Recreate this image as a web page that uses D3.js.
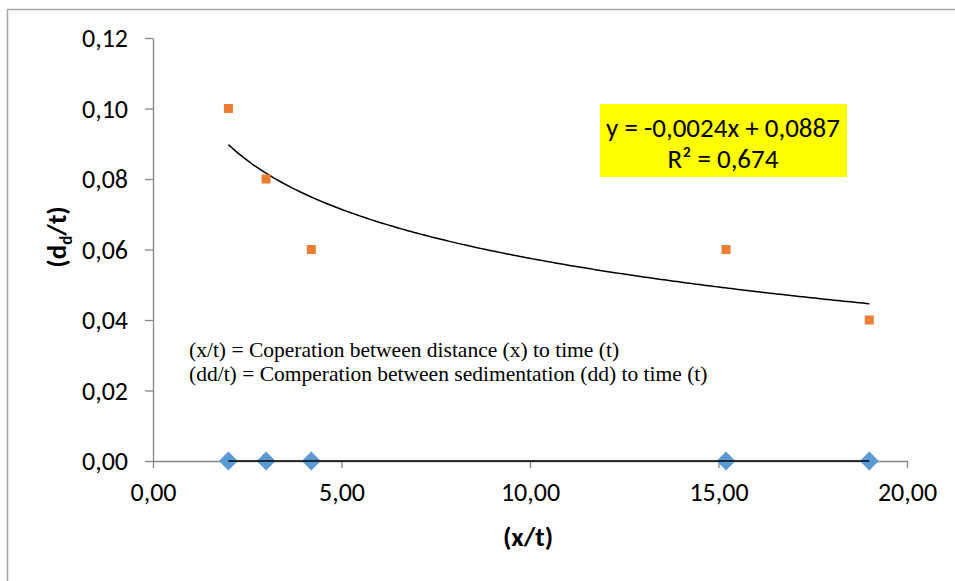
<!DOCTYPE html>
<html><head><meta charset="utf-8">
<script src="https://cdn.jsdelivr.net/npm/d3@7"></script>
<style>body{margin:0;background:#fff}svg{display:block}</style>
</head><body>
<svg id="c" width="955" height="581"></svg>
<script>
const xValues = [2.0, 3.0, 4.2, 15.2, 19.0];
const ddValues = [0.10, 0.08, 0.06, 0.06, 0.04];
const baseValues = [0, 0, 0, 0, 0];
const xTicks = [0, 5, 10, 15, 20];
const yTicks = [0, 0.02, 0.04, 0.06, 0.08, 0.10, 0.12];
const equationLines = ["y = -0,0024x + 0,0887", "R² = 0,674"];
const noteLines = ["(x/t) = Coperation between distance (x) to time (t)", "(dd/t) = Comperation between sedimentation (dd) to time (t)"];

const svg = d3.select("#c");
const fmt = v => d3.format(".2f")(v).replace(".", ",");
const x = d3.scaleLinear().domain([0, 20]).range([153, 907]);
const y = d3.scaleLinear().domain([0, 0.12]).range([461, 38]);
const font = "Calibri, Carlito, 'Open Sans', sans-serif";

// outer border
svg.append("path").attr("d", "M7.5,581 V9.5 H955").attr("fill", "none").attr("stroke", "#a6a6a6").attr("stroke-width", 1.5);

// axes
const yAx = svg.append("g").attr("transform", "translate(153,0)")
  .call(d3.axisLeft(y).tickValues(yTicks).tickFormat(fmt).tickSize(8).tickSizeOuter(0).tickPadding(17));
const xAx = svg.append("g").attr("transform", "translate(0,461)")
  .call(d3.axisBottom(x).tickValues(xTicks).tickFormat(fmt).tickSize(7).tickSizeOuter(0).tickPadding(17));
[yAx, xAx].forEach(g => {
  g.selectAll("path.domain").attr("stroke", "#868686").attr("stroke-width", 1.3);
  g.selectAll(".tick line").attr("stroke", "#868686").attr("stroke-width", 1.3);
  g.selectAll("text").attr("font-family", font).attr("font-size", 26).attr("fill", "#000");
});
xAx.selectAll("text").attr("dy", "0.62em");
yAx.selectAll("text").attr("dy", "0.33em");

// log trendline for dd series computed from data
const lx = xValues.map(Math.log);
const mx = d3.mean(lx), my = d3.mean(ddValues);
const a = d3.sum(lx.map((v, i) => (v - mx) * (ddValues[i] - my))) / d3.sum(lx.map(v => (v - mx) ** 2));
const b = my - a * mx;
const xs = d3.range(0, 201).map(i => xValues[0] + (xValues[4] - xValues[0]) * i / 200);
svg.append("path").datum(xs)
  .attr("d", d3.line().x(d => x(d)).y(d => y(a * Math.log(d) + b)))
  .attr("fill", "none").attr("stroke", "#000").attr("stroke-width", 1.5);

// blue diamonds
svg.append("g").selectAll("path").data(xValues).join("path")
  .attr("d", d3.symbol(d3.symbolSquare, 180))
  .attr("transform", (d, i) => `translate(${x(d)},${y(baseValues[i])}) rotate(45)`)
  .attr("fill", "#5b9bd5");
// linear trendline for base series
svg.append("line").attr("x1", x(xValues[0])).attr("x2", x(xValues[4]))
  .attr("y1", y(0)).attr("y2", y(0)).attr("stroke", "#000").attr("stroke-width", 1.5);

// orange squares
svg.append("g").selectAll("rect").data(xValues).join("rect")
  .attr("x", d => x(d) - 4.5).attr("y", (d, i) => y(ddValues[i]) - 4.5)
  .attr("width", 9).attr("height", 9).attr("fill", "#ed7d31");

// equation box
svg.append("rect").attr("x", 600).attr("y", 104).attr("width", 247).attr("height", 73).attr("fill", "#ffff00");
svg.append("g").selectAll("text").data(equationLines).join("text")
  .attr("x", 723).attr("y", (d, i) => 137 + i * 31).attr("text-anchor", "middle")
  .attr("font-family", font).attr("font-size", 27).attr("fill", "#000").text(d => d);

// notes
svg.append("g").selectAll("text").data(noteLines).join("text")
  .attr("x", 189).attr("y", (d, i) => 357 + i * 24)
  .attr("font-family", "'Liberation Serif', 'Times New Roman', serif").attr("font-size", 21.5).attr("fill", "#000").text(d => d);

// axis titles
svg.append("text").attr("x", 528).attr("y", 546).attr("text-anchor", "middle")
  .attr("font-family", font).attr("font-weight", "bold").attr("font-size", 27).text("(x/t)");
const yt = svg.append("text").attr("transform", "translate(66,237) rotate(-90)").attr("text-anchor", "middle")
  .attr("font-family", font).attr("font-weight", "bold").attr("font-size", 27);
yt.append("tspan").text("(d");
yt.append("tspan").attr("font-size", 17).attr("dy", 6).text("d");
yt.append("tspan").attr("dy", -6).text("/t)");
</script>
</body></html>
